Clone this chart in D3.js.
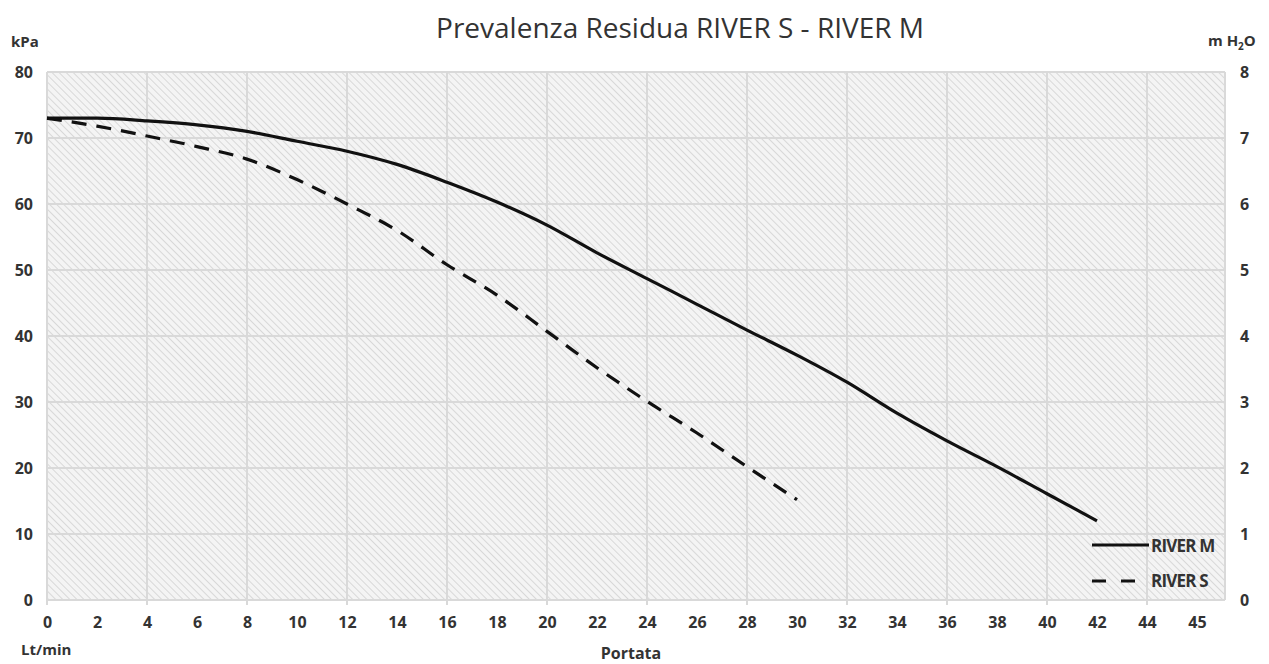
<!DOCTYPE html>
<html><head><meta charset="utf-8">
<script src="https://cdn.jsdelivr.net/npm/d3@7"></script>
<style>
html,body{margin:0;padding:0;background:#fff;}
text{fill:#333;}
</style></head>
<body>
<svg id="chart" width="1269" height="664"></svg>
<script>
// ---- data ----
const flow = [0,2,4,6,8,10,12,14,16,18,20,22,24,26,28,30,32,34,36,38,40,42];
const riverM = [73,73,72.6,72,71,69.5,68,66,63.3,60.3,56.8,52.6,48.7,44.8,40.9,37.1,33,28.3,24.1,20.2,16.1,12];
const flowS = [0,2,4,6,8,10,12,14,16,18,20,22,24,26,28,30];
const riverS = [73,71.8,70.3,68.7,66.8,63.7,60,56,50.8,46.2,40.7,35.2,30.1,25.3,20.2,15.2];
const xTickValues = [0,2,4,6,8,10,12,14,16,18,20,22,24,26,28,30,32,34,36,38,40,42,44,46];
const xTickLabels = ["0","2","4","6","8","10","12","14","16","18","20","22","24","26","28","30","32","34","36","38","40","42","44","45"];
const xGrid = [0,4,8,12,16,20,24,28,32,36,40,44];
const yTicks = [0,10,20,30,40,50,60,70,80];
const y2Ticks = [0,1,2,3,4,5,6,7,8];
const seriesNames = ["RIVER M","RIVER S"];

const svg = d3.select("#chart");
const L = 47, R = 1225, T = 72, B = 600;
const x = d3.scaleLinear().domain([0,47.12]).range([L,R]);
const y = d3.scaleLinear().domain([0,80]).range([B,T]);
const y2 = d3.scaleLinear().domain([0,8]).range([B,T]);

// hatch pattern
const defs = svg.append("defs");
const pat = defs.append("pattern").attr("id","hatch").attr("patternUnits","userSpaceOnUse")
  .attr("width",5).attr("height",5).attr("patternTransform","rotate(-45)");
pat.append("rect").attr("width",5).attr("height",5).attr("fill","#f4f4f4");
pat.append("line").attr("x1",0).attr("y1",0).attr("x2",0).attr("y2",5)
  .attr("stroke","#d8d8d8").attr("stroke-width",2);

svg.append("rect").attr("x",L).attr("y",T).attr("width",R-L).attr("height",B-T)
  .attr("fill","url(#hatch)");

// grid
const gridColor = "#d9d9d9";
svg.append("g").selectAll("line").data(yTicks).join("line")
  .attr("x1",L).attr("x2",R).attr("y1",d=>y(d)).attr("y2",d=>y(d))
  .attr("stroke",gridColor).attr("stroke-width",2);
svg.append("g").selectAll("line").data(xGrid).join("line")
  .attr("x1",d=>x(d)).attr("x2",d=>x(d)).attr("y1",T).attr("y2",B+5)
  .attr("stroke",gridColor).attr("stroke-width",2);
svg.append("line").attr("x1",R).attr("x2",R).attr("y1",T).attr("y2",B)
  .attr("stroke",gridColor).attr("stroke-width",2);

// axes
const fontB = "'Open Sans', sans-serif";
const xAxis = svg.append("g").attr("transform",`translate(0,${B})`)
  .call(d3.axisBottom(x).tickValues(xTickValues).tickFormat((d,i)=>xTickLabels[i]).tickSize(0).tickPadding(17));
xAxis.select(".domain").remove();
xAxis.selectAll("text").attr("font-family",fontB).attr("font-weight","bold").attr("font-size",16).attr("fill","#333");

const yAxis = svg.append("g").attr("transform",`translate(${L},0)`)
  .call(d3.axisLeft(y).tickValues(yTicks).tickSize(0).tickPadding(14));
yAxis.select(".domain").remove();
yAxis.selectAll("text").attr("font-family",fontB).attr("font-weight","bold").attr("font-size",16).attr("fill","#333");

const yAxis2 = svg.append("g").attr("transform",`translate(${R},0)`)
  .call(d3.axisRight(y2).tickValues(y2Ticks).tickSize(0).tickPadding(15));
yAxis2.select(".domain").remove();
yAxis2.selectAll("text").attr("font-family",fontB).attr("font-weight","bold").attr("font-size",16).attr("fill","#333");

// lines
const lineM = d3.line().x((d,i)=>x(flow[i])).y(d=>y(d)).curve(d3.curveMonotoneX);
const lineS = d3.line().x((d,i)=>x(flowS[i])).y(d=>y(d)).curve(d3.curveMonotoneX);
svg.append("path").attr("d",lineS(riverS)).attr("fill","none").attr("stroke","#111")
  .attr("stroke-width",3.2).attr("stroke-dasharray","15,10");
svg.append("path").attr("d",lineM(riverM)).attr("fill","none").attr("stroke","#111")
  .attr("stroke-width",3.2);

// title & labels
svg.append("text").attr("x",680).attr("y",38).attr("text-anchor","middle")
  .attr("font-family",fontB).attr("font-size",28).attr("fill","#333")
  .text("Prevalenza Residua RIVER S - RIVER M");
svg.append("text").attr("x",11).attr("y",47).attr("font-family",fontB).attr("font-weight","bold")
  .attr("font-size",15).text("kPa");
const mh = svg.append("text").attr("x",1208).attr("y",46).attr("font-family",fontB).attr("font-weight","bold")
  .attr("font-size",15);
mh.append("tspan").text("m H");
mh.append("tspan").attr("font-size",10).attr("dy",4).text("2");
mh.append("tspan").attr("dy",-4).text("O");
svg.append("text").attr("x",21).attr("y",655).attr("font-family",fontB).attr("font-weight","bold")
  .attr("font-size",15).text("Lt/min");
svg.append("text").attr("x",631).attr("y",659).attr("text-anchor","middle").attr("font-family",fontB).attr("font-weight","bold")
  .attr("font-size",16).text("Portata");

// legend
const lg = svg.append("g");
lg.append("line").attr("x1",1092).attr("x2",1149).attr("y1",545).attr("y2",545)
  .attr("stroke","#111").attr("stroke-width",3.2);
lg.append("line").attr("x1",1092).attr("x2",1136).attr("y1",581).attr("y2",581)
  .attr("stroke","#111").attr("stroke-width",3.2).attr("stroke-dasharray","14,15");
lg.selectAll("text").data(seriesNames).join("text")
  .attr("x",1151).attr("y",(d,i)=>552+i*35)
  .attr("font-family","'Liberation Sans Narrow', 'Open Sans', sans-serif").attr("font-weight","bold")
  .attr("font-size",17).attr("letter-spacing",-0.8).text(d=>d);
</script>
</body></html>
